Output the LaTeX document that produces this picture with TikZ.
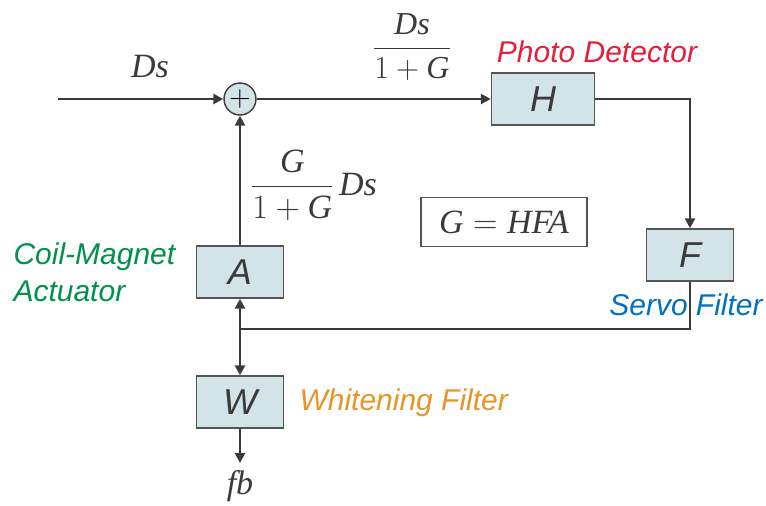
\RequirePackage{fix-cm}
\documentclass[tikz,border=0pt]{standalone}
\usepackage{amsmath}
\usepackage{fontspec}
\setmainfont{Liberation Serif}
\setsansfont{Liberation Sans}
\usepackage{tikz}
\usetikzlibrary{arrows.meta,positioning}

\definecolor{boxfill}{RGB}{210,228,232}
\definecolor{boxline}{RGB}{85,85,82}
\definecolor{wire}{RGB}{58,58,56}
\definecolor{pdred}{RGB}{230,30,55}
\definecolor{cmgreen}{RGB}{0,145,75}
\definecolor{sfblue}{RGB}{0,112,192}
\definecolor{wforange}{RGB}{232,148,40}

\begin{document}
\begin{tikzpicture}[x=1pt,y=-1pt,
      blk/.style={draw=boxline,fill=boxfill,line width=1.4pt,minimum width=87pt,
                  minimum height=52pt,inner sep=0pt,text=wire,
                  font=\fontsize{36}{40}\selectfont\sffamily\itshape},
      sumnode/.style={draw=wire,fill=boxfill,circle,line width=1.4pt,
                  minimum size=32pt,inner sep=0pt},
      lbl/.style={font=\fontsize{30}{37}\selectfont\sffamily\itshape},
      sig/.style={text=wire,font=\fontsize{34}{38}\selectfont},
      wirel/.style={draw=wire,line width=2.6pt},
      arr/.style={wirel,-{Triangle[length=10pt,width=10pt]}}]
    \useasboundingbox (0,0) rectangle (766,506);
    % blocks
    \node[sumnode] (sum) at (240,99) {\fontsize{30}{30}\selectfont$+$};
    \node[blk,minimum width=103pt] (H) at (543,99) {H};
    \node[blk] (F) at (690,255) {F};
    \node[blk] (A) at (240,272) {A};
    \node[blk] (W) at (240,402) {W};
    \coordinate (in) at (58,99);
    \coordinate (jn) at (240,329);
    \coordinate (out) at (240,463);
    % signals
    \draw[arr] (in) -- (sum);
    \draw[arr] (sum) -- (H);
    \draw[arr] (H.east) -| (F.north);
    \draw[wirel] (F.south) |- (jn);
    \draw[arr] (jn) -- (A.south);
    \draw[arr] (A.north) -- (sum.south);
    \draw[arr] (jn) -- (W.north);
    \draw[arr] (W.south) -- (out);
    % math labels
    \node[sig] (insig) at (150,67) {\textit{Ds}};
    \node[sig,font=\fontsize{32}{36}\selectfont] (fwd) at (412,47)
         {$\dfrac{\textit{Ds}}{1+\textit{G}}$};
    \node[sig] (fbk) at (314,185) {$\dfrac{\textit{G}}{1+\textit{G}}\,\textit{Ds}$};
    \node[sig,draw=boxline,line width=1.2pt,inner sep=0pt,minimum width=166pt,
          minimum height=49pt] (gain) at (504,222) {$\textit{G}=\textit{HFA}$};
    \node[sig] (fb) at (240,486) {\textit{fb}};
    % names of the blocks
    \node[lbl,text=pdred] (pd) at (597,52) {Photo Detector};
    \node[lbl,text=cmgreen,align=left,anchor=west] (cm) at (10,272)
         {Coil-Magnet\\Actuator};
    \node[lbl,text=sfblue] (sf) at (686,305) {Servo Filter};
    \node[lbl,text=wforange,anchor=west] (wf) at (296,403) {Whitening Filter};
\end{tikzpicture}
\end{document}
